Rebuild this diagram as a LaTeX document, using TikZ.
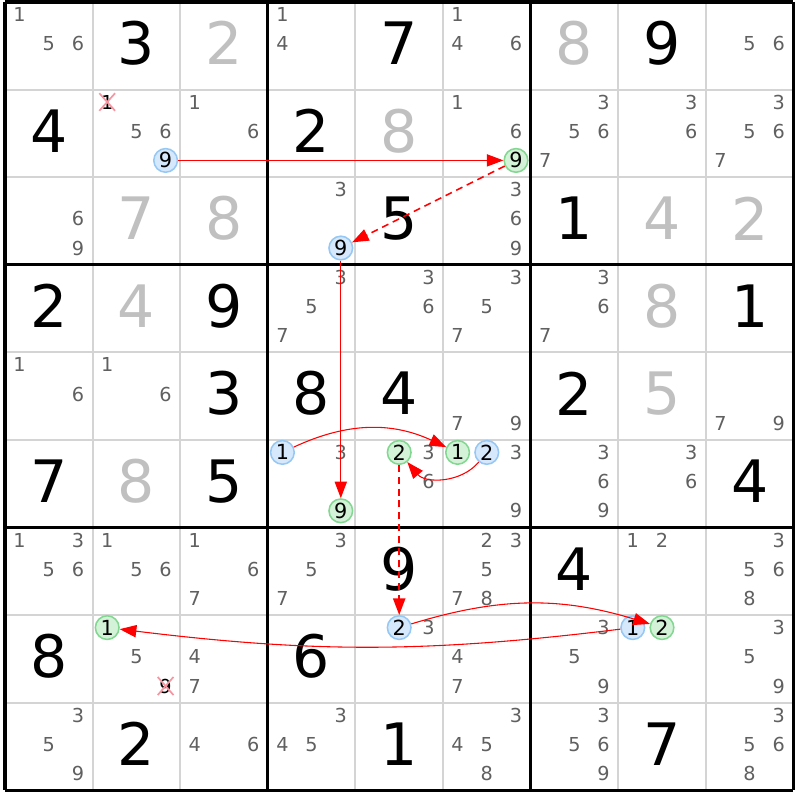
\documentclass[tikz,border=0pt]{standalone}
\usepackage{fontspec}
\setmainfont{DejaVu Sans}
\usetikzlibrary{arrows.meta,shapes.misc}

\definecolor{candgrey}{RGB}{96,96,96}
\definecolor{solvedgrey}{RGB}{192,192,192}
\definecolor{gridgrey}{RGB}{212,212,212}
\definecolor{onfill}{RGB}{214,232,252}
\definecolor{ondraw}{RGB}{150,200,245}
\definecolor{offfill}{RGB}{212,242,216}
\definecolor{offdraw}{RGB}{130,215,145}
\definecolor{crossred}{RGB}{245,150,160}
\definecolor{linkred}{RGB}{255,0,0}

\tikzset{
  given/.style={font=\fontsize{38}{40}\selectfont, text=black, inner sep=0pt},
  solved/.style={font=\fontsize{38}{40}\selectfont, text=solvedgrey, inner sep=0pt},
  cand/.style={font=\fontsize{12.5}{14}\selectfont, text=candgrey, inner sep=0pt},
  onnode/.style={circle, draw=ondraw, fill=onfill, line width=1pt, minimum size=0.54cm,
    inner sep=0pt, font=\fontsize{13.5}{15}\selectfont},
  offnode/.style={onnode, draw=offdraw, fill=offfill},
  struck/.style={cross out, draw=crossred, line width=1.1pt, inner sep=0.6pt,
    font=\fontsize{12.5}{14}\selectfont, text=black},
  link/.style={draw=linkred, line width=0.7pt, -{Triangle[length=3.8mm,width=2.8mm]}},
  weaklink/.style={link, line width=1pt, dash pattern=on 1.6mm off 1.1mm},
}

\begin{document}
\begin{tikzpicture}[x=2cm, y=-2cm]
  \useasboundingbox[fill=white] (-0.0571,-0.0228) rectangle (9.0753,9.1096);
  % grid
  \foreach \i in {1,2,4,5,7,8}{
    \draw[gridgrey, line width=1.3pt] (\i,0) -- (\i,9);
    \draw[gridgrey, line width=1.3pt] (0,\i) -- (9,\i);
  }
  \foreach \i in {0,3,6,9}{
    \draw[black, line width=2pt] (\i,0) -- (\i,9);
    \draw[black, line width=2pt] (0,\i) -- (9,\i);
  }
  % given digits
  \foreach \r/\c/\v in {1/2/3, 1/5/7, 1/8/9, 2/1/4, 2/4/2, 3/5/5, 3/7/1, 4/1/2, 4/3/9,
      4/9/1, 5/3/3, 5/4/8, 5/5/4, 5/7/2, 6/1/7, 6/3/5, 6/9/4, 7/5/9, 7/7/4, 8/1/8,
      8/4/6, 9/2/2, 9/5/1, 9/8/7}
    \node[given] (g-\r-\c) at (\c-0.5,\r-0.53) {\v};
  % solved digits
  \foreach \r/\c/\v in {1/3/2, 1/7/8, 2/5/8, 3/2/7, 3/3/8, 3/8/4, 3/9/2, 4/2/4, 4/8/8,
      5/8/5, 6/2/8}
    \node[solved] (s-\r-\c) at (\c-0.5,\r-0.53) {\v};
  % candidates
  \foreach \r/\c/\ds in {1/1/{1,5,6}, 1/4/{1,4}, 1/6/{1,4,6}, 1/9/{5,6},
      2/2/{5,6}, 2/3/{1,6}, 2/6/{1,6}, 2/7/{3,5,6,7}, 2/8/{3,6}, 2/9/{3,5,6,7},
      3/1/{6,9}, 3/4/{3}, 3/6/{3,6,9},
      4/4/{3,5,7}, 4/5/{3,6}, 4/6/{3,5,7}, 4/7/{3,6,7},
      5/1/{1,6}, 5/2/{1,6}, 5/6/{7,9}, 5/9/{7,9},
      6/4/{3}, 6/5/{3,6}, 6/6/{3,9}, 6/7/{3,6,9}, 6/8/{3,6},
      7/1/{1,3,5,6}, 7/2/{1,5,6}, 7/3/{1,6,7}, 7/4/{3,5,7}, 7/6/{2,3,5,7,8},
      7/8/{1,2}, 7/9/{3,5,6,8},
      8/2/{5}, 8/3/{4,7}, 8/5/{3}, 8/6/{4,7}, 8/7/{3,5,9}, 8/9/{3,5,9},
      9/1/{3,5,9}, 9/3/{4,6}, 9/4/{3,4,5}, 9/6/{3,4,5,8}, 9/7/{3,5,6,9}, 9/9/{3,5,6,8}}{
    \foreach \d in \ds {
      \pgfmathsetmacro\cx{\c-1+(2*mod(\d-1,3)+1)/6}
      \pgfmathsetmacro\cy{\r-1+(2*int((\d-1)/3)+1)/6-0.025}
      \node[cand] (k-\r-\c-\d) at (\cx,\cy) {\d};
    }
  }
  % eliminated candidates
  \node[struck] (x-2-2-1) at (1.1667,1.1417) {1};
  \node[struck] (x-8-2-9) at (1.8333,7.8083) {9};
  % chain candidates
  \node[onnode]  (on-2-2-9)  at (1.8333,1.8083) {9};
  \node[offnode] (off-2-6-9) at (5.8333,1.8083) {9};
  \node[onnode]  (on-3-4-9)  at (3.8333,2.8083) {9};
  \node[offnode] (off-6-4-9) at (3.8333,5.8083) {9};
  \node[onnode]  (on-6-4-1)  at (3.1667,5.1417) {1};
  \node[offnode] (off-6-6-1) at (5.1667,5.1417) {1};
  \node[onnode]  (on-6-6-2)  at (5.5,5.1417) {2};
  \node[offnode] (off-6-5-2) at (4.5,5.1417) {2};
  \node[onnode]  (on-8-5-2)  at (4.5,7.1417) {2};
  \node[offnode] (off-8-8-2) at (7.5,7.1417) {2};
  \node[onnode]  (on-8-8-1)  at (7.1667,7.1417) {1};
  \node[offnode] (off-8-2-1) at (1.1667,7.1417) {1};
  % links
  \draw[link] (on-2-2-9) -- (off-2-6-9);
  \draw[weaklink] (off-2-6-9) -- (on-3-4-9);
  \draw[link] (on-3-4-9) -- (off-6-4-9);
  \draw[link] (on-6-4-1) to[bend left=25] (off-6-6-1);
  \draw[link] (on-6-6-2) to[bend left=50] (off-6-5-2);
  \draw[weaklink] (off-6-5-2) -- (on-8-5-2);
  \draw[link] (on-8-5-2) to[bend left=17] (off-8-8-2);
  \draw[link] (on-8-8-1) to[bend left=7] (off-8-2-1);
\end{tikzpicture}
\end{document}
